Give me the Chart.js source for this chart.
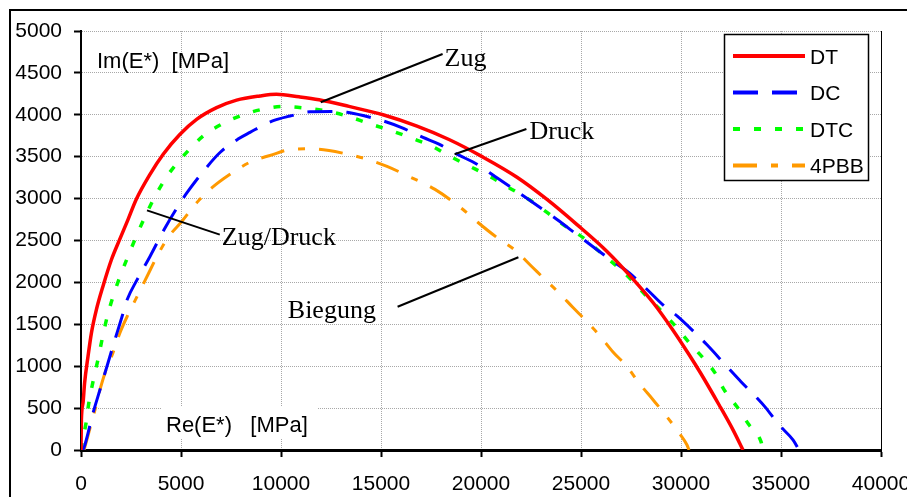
<!DOCTYPE html>
<html>
<head>
<meta charset="utf-8">
<script src="https://cdn.jsdelivr.net/npm/chart.js@4.4.0/dist/chart.umd.min.js"></script>
<style>
  html, body { margin: 0; padding: 0; background: #fff; }
  canvas { display: block; }
</style>
</head>
<body>
<canvas id="grafico" width="907" height="497"></canvas>
<script>
// Cole-Cole Darstellung: Re(E*) / Im(E*) in MPa
const seriesNames = ['DT', 'DC', 'DTC', '4PBB'];

const dtRe = [0, 20, 100, 180, 350, 520, 770, 1100, 1520, 1930, 2350, 2760, 3450, 4110, 4940, 5780, 6780, 7780, 8940, 9770, 10900, 11900, 13400, 15100, 16800, 18400, 20100, 21800, 23300, 24800, 26300, 27600, 28600, 29600, 30400, 31000, 31900, 32600, 33100];
const dtIm = [0, 360, 560, 800, 1115, 1395, 1675, 1955, 2270, 2510, 2750, 2990, 3290, 3530, 3765, 3945, 4085, 4175, 4225, 4245, 4215, 4180, 4100, 4000, 3865, 3705, 3495, 3255, 2990, 2690, 2370, 2040, 1760, 1430, 1140, 910, 540, 240, 0];

const dcRe = [100, 170, 600, 950, 1300, 1700, 2050, 2300, 2800, 3450, 4200, 4800, 5300, 6100, 6950, 7850, 8450, 9550, 10450, 11450, 12500, 13300, 14200, 15200, 16000, 17100, 17900, 18800, 19800, 20700, 22200, 23800, 24800, 25800, 26600, 27400, 28200, 29200, 29800, 30800, 31300, 32300, 33000, 33800, 34200, 34900, 35600, 35900];
const dcIm = [0, 40, 440, 720, 1000, 1320, 1590, 1790, 2030, 2310, 2650, 2890, 3070, 3320, 3550, 3710, 3790, 3925, 3985, 4035, 4040, 4030, 3985, 3920, 3850, 3730, 3650, 3530, 3410, 3265, 3020, 2750, 2570, 2390, 2250, 2115, 1940, 1710, 1600, 1375, 1255, 995, 815, 620, 515, 300, 120, 0];

const dtcRe = [0, 50, 250, 400, 600, 850, 1050, 1300, 1600, 1950, 2350, 2800, 3300, 3800, 4400, 5200, 6100, 7050, 8050, 9050, 10100, 11200, 12300, 13300, 14350, 15450, 16550, 17550, 18450, 19350, 20350, 21400, 22400, 23300, 24100, 25100, 26100, 26800, 27500, 28300, 29100, 29750, 30500, 31100, 31700, 32150, 32800, 33400, 34000, 34100];
const dtcIm = [0, 80, 320, 575, 815, 1080, 1315, 1580, 1830, 2070, 2310, 2570, 2835, 3070, 3300, 3530, 3745, 3890, 3995, 4065, 4100, 4080, 4045, 3985, 3900, 3815, 3720, 3625, 3505, 3395, 3275, 3130, 2990, 2835, 2690, 2535, 2330, 2190, 2035, 1830, 1640, 1470, 1255, 1100, 920, 720, 515, 300, 100, 0];

const pbbRe = [150, 200, 450, 700, 950, 1200, 1600, 1950, 2350, 2800, 3300, 3800, 4350, 5050, 5800, 6550, 7450, 8500, 9450, 10600, 11500, 12400, 13400, 14300, 15300, 16300, 17700, 19100, 19850, 20800, 21700, 22600, 23200, 23900, 24600, 25300, 25900, 26600, 27300, 27900, 28600, 29300, 29900, 30300, 30400];
const pbbIm = [0, 40, 260, 480, 720, 920, 1160, 1400, 1615, 1830, 2070, 2310, 2535, 2730, 2955, 3130, 3290, 3440, 3515, 3590, 3595, 3575, 3525, 3470, 3385, 3275, 3110, 2870, 2715, 2535, 2385, 2175, 2035, 1875, 1700, 1530, 1375, 1170, 995, 800, 600, 395, 205, 60, 0];

const xMin = 0, xMax = 40000, xStep = 5000;
const yMin = 0, yMax = 5000, yStep = 500;

function punkte(re, im) {
    return re.map((x, i) => ({ x: x, y: im[i] }));
}

// Beschriftungen im Diagramm (Linie von -> bis, Text), in Datenkoordinaten
const beschriftungen = [
    { text: 'Zug',       von: [11985, 4150], bis: [18080, 4725], pos: [18180, 4580] },
    { text: 'Druck',     von: [18680, 3530], bis: [22270, 3830], pos: [22420, 3708] },
    { text: 'Zug/Druck', von: [3300, 2860],  bis: [6940, 2570],  pos: [7040, 2452] },
    { text: 'Biegung',   von: [21870, 2300], bis: [15830, 1710], pos: [10340, 1579] }
];

const sans = '"Liberation Sans", Arial, sans-serif';
const serif = '"Liberation Serif", "Times New Roman", serif';

const extras = {
    id: 'extras',
    beforeDatasetsDraw(chart) {
        const ctx = chart.ctx;
        ctx.save();
        // weisser Hintergrund hinter der x-Achsenbeschriftung
        ctx.fillStyle = '#fff';
        ctx.fillRect(161, 407, 157, 31);
        ctx.restore();
    },
    afterDraw(chart) {
        const ctx = chart.ctx;
        const xs = chart.scales.x, ys = chart.scales.y;
        const a = chart.chartArea;
        ctx.save();

        // Rahmen rechts der Zeichenfläche
        ctx.strokeStyle = '#000';
        ctx.lineWidth = 1;
        ctx.beginPath();
        ctx.moveTo(a.right + 0.5, a.top);
        ctx.lineTo(a.right + 0.5, a.bottom);
        ctx.stroke();

        // äusserer Rahmen
        ctx.lineWidth = 2;
        ctx.beginPath();
        ctx.moveTo(10, 497);
        ctx.lineTo(10, 10);
        ctx.lineTo(907, 10);
        ctx.stroke();

        // Achsentitel
        ctx.fillStyle = '#000';
        ctx.font = '22px ' + sans;
        ctx.textBaseline = 'alphabetic';
        ctx.textAlign = 'left';
        ctx.fillText('Im(E*)  [MPa]', 97, 68);
        ctx.fillText('Re(E*)   [MPa]', 166, 432);

        // Beschriftungen mit Linien
        ctx.lineWidth = 2;
        ctx.font = '26px ' + serif;
        beschriftungen.forEach(b => {
            ctx.beginPath();
            ctx.moveTo(xs.getPixelForValue(b.von[0]), ys.getPixelForValue(b.von[1]));
            ctx.lineTo(xs.getPixelForValue(b.bis[0]), ys.getPixelForValue(b.bis[1]));
            ctx.stroke();
            ctx.fillText(b.text, xs.getPixelForValue(b.pos[0]), ys.getPixelForValue(b.pos[1]));
        });

        // Legende
        ctx.fillStyle = '#fff';
        ctx.fillRect(724, 34, 144, 146);
        ctx.strokeStyle = '#000';
        ctx.lineWidth = 1.5;
        ctx.strokeRect(724.5, 34.5, 144, 146);
        ctx.font = '21px ' + sans;
        ctx.textBaseline = 'middle';
        chart.data.datasets.forEach((ds, i) => {
            const y = 56 + i * 36.5;
            ctx.strokeStyle = ds.borderColor;
            ctx.lineWidth = 4;
            ctx.setLineDash(ds.borderDash || []);
            ctx.beginPath();
            ctx.moveTo(733, y);
            ctx.lineTo(805, y);
            ctx.stroke();
            ctx.setLineDash([]);
            ctx.fillStyle = '#000';
            ctx.fillText(ds.label, 810, y + 2);
        });
        ctx.restore();
    }
};

const ctx = document.getElementById('grafico').getContext('2d');
const grafico = new Chart(ctx, {
    type: 'scatter',
    data: {
        datasets: [
            { label: seriesNames[0], data: punkte(dtRe, dtIm), borderColor: '#ff0000', borderWidth: 3.5, borderDash: [], order: 1 },
            { label: seriesNames[1], data: punkte(dcRe, dcIm), borderColor: '#0000ff', borderWidth: 3, borderDash: [25, 14], order: 2 },
            { label: seriesNames[2], data: punkte(dtcRe, dtcIm), borderColor: '#00ff00', borderWidth: 3.5, borderDash: [7, 14], order: 3 },
            { label: seriesNames[3], data: punkte(pbbRe, pbbIm), borderColor: '#ff9900', borderWidth: 3, borderDash: [24, 14, 7, 14], order: 4 }
        ].map(ds => Object.assign(ds, { showLine: true, pointRadius: 0, fill: false, cubicInterpolationMode: 'monotone' }))
    },
    options: {
        responsive: false,
        animation: false,
        layout: { padding: { left: 11, top: 31, right: 26, bottom: 0 } },
        plugins: {
            legend: { display: false },
            tooltip: { enabled: false }
        },
        scales: {
            x: {
                type: 'linear',
                min: xMin,
                max: xMax,
                ticks: {
                    stepSize: xStep,
                    color: '#000',
                    font: { family: sans, size: 21 },
                    padding: 15,
                    maxRotation: 0,
                    callback: v => String(v)
                },
                grid: { color: '#a8a8a8', lineWidth: 1, tickLength: 7, tickColor: '#000', tickWidth: 2, tickBorderDash: [] },
                border: { display: true, color: '#000', width: 3, dash: [1, 1] },
                afterFit: s => { s.height = 47; s.paddingLeft = 0; s.paddingRight = 0; }
            },
            y: {
                type: 'linear',
                min: yMin,
                max: yMax,
                ticks: {
                    stepSize: yStep,
                    color: '#000',
                    font: { family: sans, size: 21 },
                    padding: 12,
                    callback: v => String(v)
                },
                grid: { color: '#a8a8a8', lineWidth: 1, tickLength: 7, tickColor: '#000', tickWidth: 2, tickBorderDash: [] },
                border: { display: true, color: '#000', width: 2, dash: [1, 1] },
                afterFit: s => { s.width = 70; s.paddingTop = 0; s.paddingBottom = 0; }
            }
        }
    },
    plugins: [extras]
});
</script>
</body>
</html>
